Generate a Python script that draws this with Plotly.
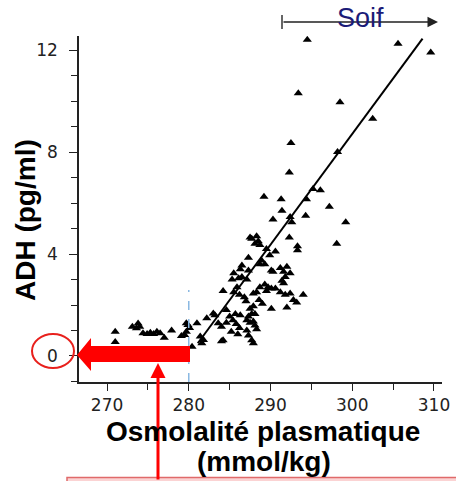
import plotly.graph_objects as go

# ---- data ----
osmo = [294.5, 305.6, 309.6, 293.4, 298.5, 302.5, 292.5, 298.2, 292.3, 289.2, 291.3, 295.2, 296.1, 294.4,
        291.4, 297.2, 290.3, 292.4, 292.6, 294.3, 299.2, 298.1, 292.3, 293.3, 293.3,
        287.5, 288.3, 288.5, 288.1, 288.7, 287.7, 289.5, 290.6, 289.9, 288.9, 288.7, 287.3, 289.3,
        291.2, 291.6, 292.0, 292.4, 291.8, 291.4, 291.6, 290.3, 290.1, 286.5, 286.3, 285.5, 285.3,
        286.1, 286.5, 287.1, 287.3,
        285.9, 285.5, 284.2, 288.7, 289.3, 289.7, 290.1, 290.6, 289.5, 288.3, 287.9, 291.2, 291.8,
        292.4, 292.8, 294.0, 293.2, 286.8, 287.0, 286.2, 288.6, 289.0,
        292.0, 290.1, 287.5, 287.9, 287.7, 288.1, 287.3, 286.3, 285.7, 285.0, 285.4, 287.1, 287.5,
        284.6, 283.0, 283.2, 282.2, 281.0, 283.6, 284.0, 284.6, 285.8, 286.2, 288.1, 288.3, 287.9,
        287.1, 287.3, 287.7, 287.9, 284.2, 284.0, 281.4, 281.8, 281.6, 280.4, 286.0, 285.2,
        271.0, 271.0, 273.1, 273.8, 273.6, 274.0, 274.4, 274.9, 275.3, 275.7, 276.1, 276.5, 277.0,
        277.9, 279.1, 279.5, 279.7, 279.7, 279.9, 280.1]
adh = [12.4, 12.25, 11.9, 10.3, 9.95, 9.3, 8.35, 8.0, 7.2, 6.25, 6.15, 6.55, 6.5, 6.15,
       5.7, 5.85, 5.35, 5.45, 5.25, 5.5, 5.25, 4.4, 4.65, 4.3, 4.15,
       4.65, 4.7, 4.5, 4.4, 4.35, 4.6, 4.2, 4.1, 3.95, 3.75, 3.6, 3.85, 3.6,
       3.45, 3.3, 3.5, 3.25, 3.1, 2.95, 2.85, 3.3, 3.35, 3.55, 3.4, 3.25, 3.0,
       3.05, 3.1, 3.0, 3.35,
       2.7, 2.5, 2.55, 2.7, 2.8, 2.7, 2.65, 2.65, 2.55, 2.5, 2.45, 2.5, 2.4,
       2.45, 2.2, 2.4, 2.1, 2.3, 2.15, 2.4, 2.2, 2.05,
       1.9, 1.85, 1.85, 1.95, 1.65, 1.65, 1.55, 1.6, 1.65, 1.55, 1.4, 1.4, 1.3,
       1.8, 1.67, 1.6, 1.48, 1.28, 1.28, 1.15, 1.3, 1.25, 1.1, 1.2, 1.05, 1.35,
       1.0, 0.8, 0.62, 0.5, 0.62, 0.58, 0.76, 0.63, 0.5, 0.36, 0.85, 0.95,
       0.95, 0.55, 1.15, 1.27, 1.09, 1.15, 0.89, 0.86, 0.91, 0.86, 0.95, 0.89, 0.72,
       1.0, 0.78, 0.82, 0.95, 1.28, 1.22, 1.1]

fit_x = [281.1, 308.6]
fit_y = [0.5, 12.45]

x_ticks = [270, 280, 290, 300, 310]
y_ticks = [0, 4, 8, 12]
threshold = 280

W, H = 456, 481
L, R, T, B = 79, 14, 36, 99


def xp(px):
    return (px - L) / (W - L - R)


def yp(py):
    return (H - B - py) / (H - T - B)


fig = go.Figure()
fig.add_trace(go.Scatter(x=fit_x, y=fit_y, mode="lines",
                         line=dict(color="black", width=2), showlegend=False, hoverinfo="skip"))
fig.add_trace(go.Scatter(x=osmo, y=adh, mode="markers",
                         marker=dict(symbol="triangle-up", size=8, color="black"),
                         showlegend=False))

tickfont = dict(family="DejaVu Sans", size=17, color="#222")
fig.update_xaxes(range=[266.57, 310.98], tickvals=x_ticks, showgrid=False, zeroline=False,
                 showline=True, linecolor="#222", linewidth=1.5, ticks="outside", ticklen=7,
                 tickwidth=1.2, tickcolor="#222", tickfont=tickfont, ticklabelstandoff=0,
                 minor=dict(dtick=5, tick0=265, ticks="outside", ticklen=6, tickcolor="#222", tickwidth=1.2))
fig.update_yaxes(range=[-1.02, 12.55], tickvals=y_ticks, showgrid=False, zeroline=False,
                 showline=True, linecolor="#222", linewidth=1.5, ticks="outside", ticklen=8,
                 tickwidth=1.2, tickcolor="#222", tickfont=tickfont, ticklabelstandoff=8,
                 minor=dict(dtick=1, tick0=0, ticks="outside", ticklen=6, tickcolor="#222", tickwidth=1.2))

shapes = []
# dashed threshold line
shapes.append(dict(type="line", xref="x", yref="paper", x0=threshold, x1=threshold,
                   y0=0, y1=yp(290), line=dict(color="#8ab8e2", width=1.5, dash="dash")))
# thick red arrow pointing to 0
path = "M {},{} L {},{} L {},{} L {},{} L {},{} L {},{} L {},{} Z".format(
    xp(77), yp(355), xp(91), yp(338), xp(91), yp(346), xp(190), yp(346),
    xp(190), yp(362), xp(91), yp(362), xp(91), yp(371))
shapes.append(dict(type="path", xref="paper", yref="paper", path=path,
                   fillcolor="#ff0000", line=dict(width=0)))
# red circle around 0
shapes.append(dict(type="circle", xref="paper", yref="paper", x0=xp(32), x1=xp(74),
                   y0=yp(368), y1=yp(334), line=dict(color="#e8201c", width=2)))
# pink box at bottom
shapes.append(dict(type="rect", xref="paper", yref="paper", x0=xp(67), x1=xp(470),
                   y0=yp(500), y1=yp(477.5), fillcolor="#fbd3d3", line=dict(color="#e06a6a", width=1.5)))
# Soif left bar
shapes.append(dict(type="line", xref="paper", yref="paper", x0=xp(282), x1=xp(282),
                   y0=yp(29), y1=yp(15), line=dict(color="#333", width=1.5)))

annotations = [
    dict(x=xp(438), y=yp(22), ax=-156, ay=0, xref="paper", yref="paper",
         text="", showarrow=True, arrowhead=2,
         arrowsize=1.4, arrowwidth=1.5, arrowcolor="#222"),
    dict(x=xp(360), y=yp(18), xref="paper", yref="paper", text="Soif", showarrow=False,
         font=dict(family="Arial", size=27, color="#1b1b78"), xanchor="center", yanchor="middle"),
    dict(x=xp(158), y=yp(363), xref="paper", yref="paper", ax=0, ay=130, text="",
         showarrow=True, arrowhead=2, arrowsize=1.0, arrowwidth=3, arrowcolor="#ff0000"),
    dict(x=xp(26), y=yp(220), xref="paper", yref="paper", text="<b>ADH (pg/ml)</b>",
         textangle=-90, showarrow=False, font=dict(family="Arial", size=28, color="black"),
         xanchor="center", yanchor="middle"),
    dict(x=xp(263), y=yp(431), xref="paper", yref="paper", text="<b>Osmolalité plasmatique</b>",
         showarrow=False, font=dict(family="Arial", size=28, color="black"),
         xanchor="center", yanchor="middle"),
    dict(x=xp(264), y=yp(461), xref="paper", yref="paper", text="<b>(mmol/kg)</b>",
         showarrow=False, font=dict(family="Arial", size=28, color="black"),
         xanchor="center", yanchor="middle"),
]

fig.update_layout(width=W, height=H, margin=dict(l=L, r=R, t=T, b=B, autoexpand=False),
                  paper_bgcolor="white", plot_bgcolor="white",
                  shapes=shapes, annotations=annotations, showlegend=False)

fig.write_html("out.html", config={"displayModeBar": False},
               post_script="document.body.style.margin='0';document.body.style.padding='0';"
                           "document.documentElement.style.overflow='hidden';")
